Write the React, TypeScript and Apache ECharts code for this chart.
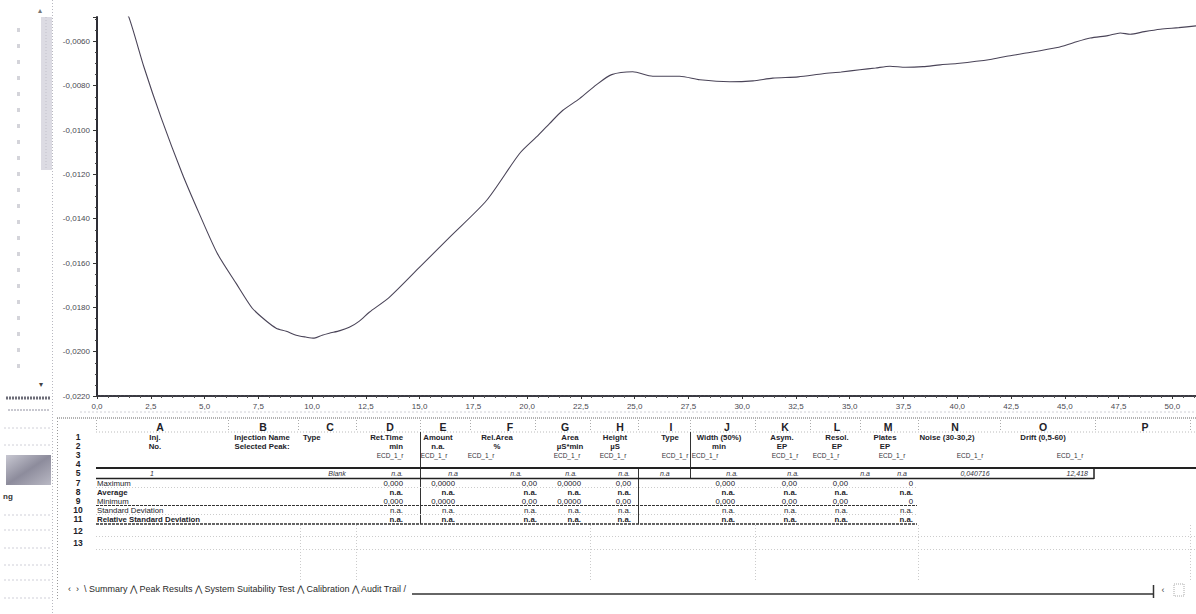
import React, { useEffect, useRef } from "react";
import * as echarts from "echarts";

// ---------- chromatogram data ----------
const timeMin = [1.2, 1.49, 2.19, 2.98, 3.96, 4.75, 5.59, 6.47, 7.22, 7.8, 8.33, 8.8, 9.26, 9.7, 10.1, 10.47, 10.8, 11.3, 11.73, 12.2, 12.66, 13.59, 14.99, 16.39, 18.11, 19.65, 20.45, 21.04, 21.65, 22.44, 23.23, 23.93, 24.91, 25.84, 27.09, 28.03, 29.42, 30.5, 31.42, 32.6, 33.75, 34.6, 35.47, 36.2, 36.87, 37.6, 38.41, 39.2, 39.99, 41.53, 42.3, 43.06, 44.65, 45.4, 46.18, 47.0, 47.58, 48.04, 48.7, 49.44, 50.3, 51.1];
const signalMicroS = [-0.0045, -0.00493, -0.00718, -0.00944, -0.01196, -0.01376, -0.01556, -0.01692, -0.01804, -0.01856, -0.01894, -0.01908, -0.01926, -0.01934, -0.01939, -0.01926, -0.01917, -0.01905, -0.0189, -0.01862, -0.01822, -0.01755, -0.0162, -0.01484, -0.01318, -0.01106, -0.0103, -0.00971, -0.00912, -0.00858, -0.00795, -0.0075, -0.00737, -0.00757, -0.00757, -0.00773, -0.00782, -0.00778, -0.00766, -0.0076, -0.00746, -0.00738, -0.00728, -0.0072, -0.00712, -0.00717, -0.00714, -0.00706, -0.007, -0.00682, -0.00667, -0.00655, -0.00628, -0.00606, -0.00585, -0.00574, -0.00562, -0.00568, -0.00556, -0.00545, -0.00538, -0.0053];

// ---------- spreadsheet content ----------
const colLetters = ["A", "B", "C", "D", "E", "F", "G", "H", "I", "J", "K", "L", "M", "N", "O", "P"];
const rowNumbers = ["1", "2", "3", "4", "5", "7", "8", "9", "10", "11", "12", "13"];
const headerRow1 = ["Inj.", "Injection Name", "Type", "Ret.Time", "Amount", "Rel.Area", "Area", "Height", "Type", "Width (50%)", "Asym.", "Resol.", "Plates", "Noise (30-30,2)", "Drift (0,5-60)"];
const headerRow2 = ["No.", "Selected Peak:", "", "min", "n.a.", "%", "µS*min", "µS", "", "min", "EP", "EP", "EP", "", ""];
const headerRow3 = ["", "", "", "ECD_1_r", "ECD_1_r", "ECD_1_r", "ECD_1_r", "ECD_1_r", "ECD_1_r", "ECD_1_r", "ECD_1_r", "ECD_1_r", "ECD_1_r", "ECD_1_r", "ECD_1_r"];
const injectionRow = ["1", "", "Blank", "n.a.", "n.a", "n.a.", "n.a.", "n.a.", "n.a", "n.a.", "n.a.", "n.a", "n.a", "0,040716", "12,418"];
const statLabels = ["Maximum", "Average", "Minimum", "Standard Deviation", "Relative Standard Deviation"];
const statBold = [false, true, false, false, true];
const statMaximum = ["0,000", "0,0000", "0,00", "0,0000", "0,00", "", "0,000", "0,00", "0,00", "0"];
const statAverage = ["n.a.", "n.a.", "n.a.", "n.a.", "n.a.", "", "n.a.", "n.a.", "n.a.", "n.a."];
const statMinimum = ["0,000", "0,0000", "0,00", "0,0000", "0,00", "", "0,000", "0,00", "0,00", "0"];
const statStdDev = ["n.a.", "n.a.", "n.a.", "n.a.", "n.a.", "", "n.a.", "n.a.", "n.a.", "n.a."];
const statRelStdDev = ["n.a.", "n.a.", "n.a.", "n.a.", "n.a.", "", "n.a.", "n.a.", "n.a.", "n.a."];
const tabLabels = "‹  ›  \\ Summary ⋀ Peak Results ⋀ System Suitability Test ⋀ Calibration ⋀ Audit Trail /";

// ---------- layout (positions only) ----------
const letterX = [160, 263, 330, 390, 443, 510, 565, 620, 671, 727, 785, 837, 888, 955, 1043, 1145];
const rowY = { letters: 427, r1: 437, r2: 446, r3: 455, r4: 464, r5: 473, stats: [483, 492, 501, 510, 519], tabs: 589 };
const rowNumY = [437, 446, 455, 464, 473, 483, 492, 501, 510, 519, 531, 543];
const h1X = [155, 262, 303, 403, 438, 497, 570, 615, 670, 719, 782, 837, 885, 947, 1043];
const h1Align = ["center", "center", "left", "right", "center", "center", "center", "center", "center", "center", "center", "center", "center", "center", "center"];
const h3X = [0, 0, 0, 390, 434, 481, 567, 613, 675, 705, 785, 826, 892, 970, 1070];
const injX = [152, 0, 337, 403, 458, 522, 577, 630, 660, 738, 799, 870, 907, 975, 1088];
const injAlign = ["center", "left", "center", "right", "right", "right", "right", "right", "left", "right", "right", "right", "right", "center", "right"];
const statRightX = [403, 455, 537, 581, 631, 0, 735, 797, 848, 913];

const FONT = "'Liberation Sans', Arial, sans-serif";
const INK = "#222228";

function txt(text: string, x: number, y: number, size: number, opts: any = {}) {
  return {
    type: "text",
    silent: true,
    z: 50,
    style: {
      text,
      x,
      y,
      align: opts.align || "center",
      verticalAlign: "middle",
      lineHeight: opts.lineHeight || Math.round(size),
      font: `${opts.italic ? "italic " : ""}${opts.bold ? "bold " : ""}${size}px ${FONT}`,
      fill: opts.fill || INK,
    },
  };
}
function ln(x1: number, y1: number, x2: number, y2: number, stroke = "#888", lineWidth = 1, dash: any = null) {
  return {
    type: "line",
    silent: true,
    z: 40,
    shape: { x1, y1, x2, y2 },
    style: { stroke, lineWidth, lineDash: dash },
  };
}

function buildGraphics() {
  const g: any[] = [];
  // left sidebar
  g.push(ln(52.5, 0, 52.5, 614, "#b8b8c0", 1, [1, 2]));
  g.push({ type: "rect", silent: true, shape: { x: 41, y: 17, width: 11, height: 153 }, style: { fill: "#dcdbe3" } });
  g.push(ln(46, 17, 46, 170, "#c2c1cb", 1, [1, 2]));
  g.push(txt("▴", 40, 10, 8, { fill: "#777" }));
  g.push(txt("▾", 41, 384, 8, { fill: "#444" }));
  const markY = [28, 44, 60, 76, 92, 108, 124, 140, 156, 172, 188, 204, 220, 236, 252, 268, 284, 300, 316, 332, 348, 364];
  markY.forEach((y) => g.push({ type: "rect", silent: true, shape: { x: 17, y, width: 3, height: 4 }, style: { fill: "#d4d4da" } }));
  g.push(ln(6, 398, 50, 398, "#6d6d78", 3, [2, 1]));
  g.push(ln(8, 410, 50, 410, "#c8c8d0", 2, [2, 1]));
  g.push(ln(4, 428, 50, 428, "#d0d0d8", 1, [2, 2]));
  g.push(ln(4, 445, 50, 445, "#d0d0d8", 1, [2, 2]));
  g.push({
    type: "rect",
    silent: true,
    shape: { x: 6, y: 455, width: 45, height: 30 },
    style: {
      fill: new echarts.graphic.LinearGradient(0, 0, 1, 1, [
        { offset: 0, color: "#c8c8d2" },
        { offset: 0.5, color: "#8d8c9c" },
        { offset: 1, color: "#b9b9c4" },
      ]),
    },
  });
  g.push(txt("ng", 3, 496, 8, { bold: true, align: "left", fill: "#333" }));
  [515, 530, 548, 565, 580, 598].forEach((y) => g.push(ln(4, y, 50, y, "#cfcfd8", 1, [2, 2])));

  // sheet frame
  g.push(ln(80, 412, 1196, 412, "#d0d0d6", 1, [2, 2]));
  g.push(ln(57, 418, 1196, 418, "#666", 1, [1, 1]));
  g.push(ln(57.5, 418, 57.5, 600, "#999", 1, [1, 2]));
  [96, 228, 298, 356, 420, 470, 535, 590, 638, 690, 755, 810, 860, 918, 1000, 1095, 1190].forEach((x) =>
    g.push(ln(x + 0.5, 420, x + 0.5, 432, "#aaa", 1, [1, 2]))
  );
  g.push(ln(96, 432, 1196, 432, "#bbb", 1, [1, 2]));
  colLetters.forEach((c, i) => g.push(txt(c, letterX[i], rowY.letters, 10.5, { bold: true })));
  rowNumbers.forEach((r, i) => g.push(txt(r, 78, rowNumY[i], 8.5, { bold: true, lineHeight: 8 })));

  headerRow1.forEach((t, i) => t && g.push(txt(t, h1X[i], rowY.r1, 7.8, { bold: true, align: h1Align[i], lineHeight: 8 })));
  headerRow2.forEach((t, i) => t && g.push(txt(t, h1X[i], rowY.r2, 7.8, { bold: true, align: h1Align[i], lineHeight: 8 })));
  headerRow3.forEach((t, i) => t && g.push(txt(t, h3X[i], rowY.r3, 6.5, { fill: "#333338", lineHeight: 7 })));

  // solid verticals
  g.push(ln(420.5, 432, 420.5, 524, "#333", 1));
  g.push(ln(690.5, 432, 690.5, 478, "#333", 1));
  g.push(ln(638.5, 468, 638.5, 524, "#333", 1));
  // row 5 box
  g.push(ln(96, 468, 1196, 468, "#222", 2));
  g.push(ln(96, 478.5, 1094, 478.5, "#222", 1.5));
  g.push(ln(1094, 468, 1094, 479, "#222", 1.5));
  injectionRow.forEach((t, i) => t && g.push(txt(t, injX[i], rowY.r5, 7, { italic: true, align: injAlign[i], fill: "#33333c", lineHeight: 8 })));

  // statistic rows
  const statRows = [statMaximum, statAverage, statMinimum, statStdDev, statRelStdDev];
  statLabels.forEach((lab, r) => {
    const y = rowY.stats[r];
    g.push(txt(lab, 97, y, 7.8, { bold: statBold[r], align: "left", lineHeight: 8 }));
    statRows[r].forEach((v, c) => v && g.push(txt(v, statRightX[c], y, 7.8, { bold: statBold[r], align: "right", lineHeight: 8 })));
  });
  g.push(ln(96, 505.5, 917, 505.5, "#333", 1.2, [3, 1]));
  g.push(ln(96, 524, 917, 524, "#333", 1.5, [3, 1]));
  g.push(ln(96, 487.5, 917, 487.5, "#ccc", 1, [1, 2]));
  g.push(ln(96, 514.5, 917, 514.5, "#ccc", 1, [1, 2]));
  [536.5, 549.5].forEach((y) => g.push(ln(96, y, 1196, y, "#ccc", 1, [1, 2])));
  [300, 356, 590, 755, 918, 1190].forEach((x) => g.push(ln(x + 0.5, 525, x + 0.5, 580, "#ccc", 1, [1, 2])));

  // tabs
  g.push(txt(tabLabels, 68, rowY.tabs, 9, { align: "left", fill: "#2a2a2a" }));
  g.push(ln(412, 594, 1153, 594, "#333", 1.5));
  g.push(ln(1153.5, 585, 1153.5, 598, "#333", 1.5));
  g.push(txt("‹", 1163, 590, 9, { fill: "#444" }));
  g.push({ type: "rect", silent: true, shape: { x: 1174, y: 584, width: 10, height: 12 }, style: { fill: "#fff", stroke: "#aaa", lineWidth: 1, lineDash: [1, 1] } });
  return g;
}

export default function App() {
  const ref = useRef<HTMLDivElement>(null);
  useEffect(() => {
    if (!ref.current) return;
    const chart = echarts.init(ref.current, null, { renderer: "svg" });
    const fmtY = (v: number) => {
      const k = Math.round(v / 0.002);
      if (Math.abs(v - k * 0.002) > 1e-7) return "";
      return (k * 0.002).toFixed(4).replace(".", ",");
    };
    const fmtX = (v: number) => {
      const k = Math.round(v / 2.5);
      if (Math.abs(v - k * 2.5) > 1e-6) return "";
      return (k * 2.5).toFixed(1).replace(".", ",");
    };
    chart.setOption({
      animation: false,
      backgroundColor: "#ffffff",
      grid: { left: 97, right: 0, top: 17, bottom: 218, containLabel: false },
      xAxis: {
        type: "value",
        min: 0,
        max: 51.1,
        interval: 2.5,
        axisLine: { show: true, lineStyle: { color: "#3a3a42", width: 2, type: [3, 1] } },
        axisTick: { show: true, length: 3, lineStyle: { color: "#333" } },
        minorTick: { show: true, splitNumber: 5, length: 2, lineStyle: { color: "#555" } },
        splitLine: { show: false },
        axisLabel: { show: true, showMaxLabel: false, formatter: fmtX, fontSize: 8, color: "#4a4a52", fontFamily: FONT, margin: 6 },
      },
      yAxis: {
        type: "value",
        min: -0.022,
        max: -0.0049,
        interval: 0.002,
        axisLine: { show: true, lineStyle: { color: "#2e2e36", width: 2 } },
        axisTick: { show: true, length: 4, lineStyle: { color: "#333" } },
        minorTick: { show: true, splitNumber: 4, length: 2, lineStyle: { color: "#444" } },
        splitLine: { show: false },
        axisLabel: { show: true, showMaxLabel: false, formatter: fmtY, fontSize: 8, color: "#4a4a52", fontFamily: FONT, margin: 7 },
      },
      series: [
        {
          type: "line",
          data: timeMin.map((t, i) => [t, signalMicroS[i]]),
          showSymbol: false,
          smooth: 0.25,
          clip: true,
          lineStyle: { color: "#4a4458", width: 1.1 },
        },
      ],
      graphic: { elements: buildGraphics() },
    });
    return () => chart.dispose();
  }, []);
  return <div ref={ref} style={{ position: "absolute", left: 0, top: 0, width: 1196, height: 614 }} />;
}
